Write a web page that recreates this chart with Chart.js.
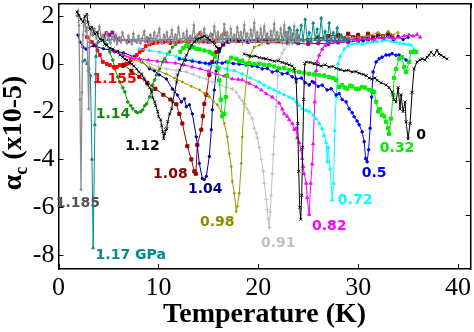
<!DOCTYPE html>
<html><head><meta charset="utf-8">
<script src="https://cdn.jsdelivr.net/npm/chart.js@4/dist/chart.umd.min.js"></script>
<style>html,body{margin:0;padding:0;background:#fff}canvas{display:block}</style>
</head><body>
<canvas id="c" width="474" height="332"></canvas>
<script>
// ---- data: [temperature (K), alpha_c (x10-5)] per pressure (GPa) ----
const s0 = [[25.6,0.0],[26.0,-0.05],[26.3,-0.1],[26.7,-0.05],[27.1,-0.14],[27.5,-0.12],[27.8,-0.2],[28.2,-0.25],[28.6,-0.3],[29.0,-0.28],[29.4,-0.35],[29.8,-0.33],[30.1,-0.4],[30.5,-0.45],[30.8,-0.5],[31.1,-0.6],[31.4,-0.64],[31.7,-0.6],[31.9,-0.7],[32.3,-0.8],[32.8,-0.89],[33.1,-1.0],[33.4,-1.18],[33.6,-1.5],[33.8,-1.6],[34.0,-1.0],[34.2,-1.9],[34.3,-1.3],[34.5,-2.0],[34.7,-1.6],[34.8,-2.43],[35.0,-3.14],[35.2,-2.5],[35.4,-1.2],[35.6,-0.22],[35.9,0.07],[36.2,0.15],[36.4,0.2],[36.7,0.15],[36.9,0.27],[37.1,0.35],[37.3,0.48],[37.6,0.35],[37.9,0.56],[38.1,0.4],[38.3,0.35],[38.6,0.27],[38.9,0.2]];
const sX = [[18.6,0.4],[19.0,0.35],[19.3,0.3],[19.7,0.32],[20.1,0.25],[20.5,0.22],[20.8,0.2],[21.2,0.15],[21.6,0.1],[22.0,0.12],[22.4,0.05],[22.8,0.0],[23.1,-0.05],[23.4,-0.1],[23.6,-0.2],[23.8,-0.77],[23.95,-2.5],[24.05,-4.5],[24.15,-6.0],[24.25,-6.5],[24.35,-5.5],[24.45,-3.5],[24.55,-1.5],[24.65,0.0],[24.8,0.07],[25.2,0.05],[25.6,0.0]];
const s032 = [[12.2,0.5],[12.5,0.65],[12.8,0.75],[13.1,0.7],[13.5,0.68],[13.8,0.62],[14.1,0.6],[14.6,0.55],[15.1,0.5],[15.4,0.42],[15.7,0.3],[15.95,-0.2],[16.1,-0.7],[16.25,-1.5],[16.4,-2.2],[16.6,-2.1],[16.75,-1.4],[16.85,-0.5],[17.0,0.07],[17.3,0.25],[17.8,0.2],[18.1,0.1],[18.4,0.12],[18.8,0.0],[19.1,0.02],[19.6,-0.02],[20.1,0.0],[20.6,-0.05],[21.1,-0.06],[21.6,-0.12],[22.1,-0.2],[22.6,-0.18],[23.1,-0.27],[23.6,-0.3],[24.1,-0.35],[24.6,-0.38],[25.1,-0.43],[25.6,-0.45],[26.1,-0.48],[26.6,-0.5],[27.1,-0.56],[27.5,-0.6],[27.8,-0.68],[28.1,-0.97],[28.4,-0.9],[28.7,-1.0],[28.9,-1.05],[29.2,-0.92],[29.4,-0.95],[29.8,-1.05],[30.1,-1.05],[30.4,-0.98],[30.7,-1.0],[31.1,-1.1],[31.4,-1.15],[31.6,-1.18],[31.8,-1.6],[32.0,-2.0],[32.2,-1.9],[32.4,-2.14],[32.6,-2.2],[32.8,-2.43],[33.0,-2.7],[33.1,-2.93],[33.3,-2.3],[33.5,-1.3],[33.6,-0.6],[33.8,-0.22],[34.1,0.2],[34.4,0.27],[34.6,-0.15],[34.8,-0.35],[35.1,0.07],[35.3,0.48],[35.6,0.5],[35.8,0.48]];
const s05 = [[12.1,0.2],[12.7,0.15],[13.4,0.1],[14.1,0.05],[14.7,0.02],[15.1,0.0],[15.8,0.05],[16.4,0.02],[16.8,0.07],[17.5,0.0],[18.1,-0.02],[18.8,-0.06],[19.4,-0.1],[19.9,-0.12],[20.4,-0.22],[20.9,-0.2],[21.4,-0.35],[21.9,-0.3],[22.4,-0.43],[22.9,-0.4],[23.4,-0.55],[23.8,-0.64],[24.3,-0.6],[24.7,-0.8],[25.1,-0.89],[25.4,-0.75],[25.6,-0.8],[26.0,-0.95],[26.4,-0.9],[26.9,-1.1],[27.3,-1.05],[27.8,-1.31],[28.1,-1.25],[28.4,-1.5],[28.8,-1.6],[29.1,-1.89],[29.4,-2.05],[29.6,-2.22],[29.9,-2.4],[30.1,-2.55],[30.4,-2.85],[30.6,-3.26],[30.75,-3.97],[30.9,-4.1],[31.05,-3.6],[31.2,-2.7],[31.35,-1.4],[31.5,-0.35],[31.8,0.07],[32.1,0.2],[32.4,0.27],[32.8,0.36],[33.1,0.36],[33.4,0.42],[33.8,0.35],[34.1,0.36],[34.4,0.27],[34.8,0.15]];
const s072 = [[8.1,0.62],[9.1,0.55],[10.1,0.48],[11.0,0.38],[11.8,0.3],[12.6,0.22],[13.4,0.15],[14.2,0.05],[15.1,-0.06],[15.9,-0.12],[16.8,-0.22],[17.6,-0.3],[18.4,-0.43],[19.2,-0.6],[20.1,-0.77],[20.6,-0.9],[21.1,-1.0],[21.6,-1.1],[22.1,-1.2],[22.6,-1.3],[23.1,-1.4],[23.5,-1.47],[23.8,-1.6],[24.1,-1.75],[24.4,-1.89],[24.8,-1.95],[25.1,-2.0],[25.5,-2.15],[25.8,-2.3],[26.1,-2.5],[26.4,-2.72],[26.6,-3.0],[26.8,-3.3],[26.9,-4.1],[27.0,-3.5],[27.2,-4.4],[27.4,-5.7],[27.55,-5.0],[27.65,-2.8],[27.8,-1.4],[28.0,0.0],[28.2,0.3],[28.6,0.6],[29.0,0.75],[29.4,0.82],[29.9,0.85],[30.4,0.82],[30.9,0.88],[31.4,0.9],[31.9,0.92],[32.4,0.95],[32.8,0.98],[33.3,0.93],[33.8,0.9],[34.2,0.85],[34.6,0.82],[35.0,0.8],[35.3,0.77],[35.6,0.6]];
const s082 = [[5.6,0.5],[6.5,0.35],[7.3,0.25],[8.1,0.19],[9.0,0.15],[9.9,0.1],[10.8,0.07],[11.7,0.02],[12.6,-0.05],[13.4,-0.14],[14.2,-0.22],[15.0,-0.32],[15.8,-0.43],[16.6,-0.52],[17.4,-0.64],[18.0,-0.66],[18.4,-0.68],[19.1,-0.82],[19.8,-0.97],[20.3,-1.1],[20.8,-1.26],[21.4,-1.4],[22.1,-1.65],[22.4,-1.9],[22.6,-2.1],[22.9,-2.2],[23.1,-2.35],[23.4,-2.5],[23.6,-2.75],[23.8,-2.7],[23.9,-3.1],[24.1,-3.3],[24.3,-3.6],[24.4,-3.97],[24.5,-4.3],[24.6,-4.6],[24.8,-5.0],[24.9,-5.6],[25.1,-6.3],[25.25,-5.0],[25.4,-4.2],[25.5,-3.35],[25.65,-1.6],[25.8,-0.3],[25.9,0.07],[26.1,0.35],[26.4,0.6],[26.7,0.75],[27.1,0.9],[27.6,0.92],[28.1,0.95],[28.6,0.98],[29.1,1.0],[29.6,1.02],[30.1,1.0],[30.6,1.05],[31.1,1.05],[31.6,1.0],[32.1,1.08],[32.6,1.05],[33.1,1.1],[33.6,1.05],[34.1,1.1],[34.6,1.15],[35.1,1.2],[35.5,1.15],[35.9,1.22],[36.2,1.1]];
const s091 = [[7.4,0.27],[8.3,0.15],[9.1,0.0],[10.0,-0.12],[10.8,-0.22],[11.8,-0.28],[12.8,-0.35],[13.5,-0.45],[14.1,-0.56],[14.8,-0.65],[15.4,-0.77],[16.2,-0.9],[16.8,-0.98],[17.4,-1.06],[17.8,-1.2],[18.1,-1.4],[18.4,-1.55],[18.6,-1.7],[18.9,-1.9],[19.1,-2.05],[19.4,-2.3],[19.6,-2.7],[19.8,-2.9],[19.9,-3.1],[20.1,-3.5],[20.3,-4.0],[20.5,-4.5],[20.6,-5.0],[20.8,-5.67],[20.9,-6.1],[21.0,-6.5],[21.1,-6.85],[21.2,-6.2],[21.3,-5.5],[21.4,-4.6],[21.5,-3.8],[21.6,-3.06],[21.8,-1.8],[21.95,-0.5],[22.1,0.2],[22.4,0.45],[22.6,0.6],[23.1,0.82],[23.6,0.9],[24.5,0.95],[25.5,1.0],[26.5,1.0],[27.5,1.05],[28.5,1.0],[29.5,1.05]];
const s098 = [[6.5,0.35],[7.4,0.19],[8.3,0.05],[9.1,-0.14],[10.0,-0.3],[10.8,-0.43],[11.6,-0.6],[12.4,-0.77],[13.3,-0.95],[14.1,-1.1],[14.6,-1.25],[15.1,-1.39],[15.5,-1.55],[15.9,-1.72],[16.3,-2.0],[16.6,-2.5],[16.9,-3.06],[17.1,-3.76],[17.3,-4.3],[17.4,-4.92],[17.6,-5.42],[17.8,-6.17],[17.9,-5.96],[18.1,-5.42],[18.3,-4.17],[18.4,-3.06],[18.6,-1.68],[18.8,-0.77],[19.1,0.27],[19.6,0.69],[20.1,0.77],[20.6,0.9],[22,0.95],[24,1.0],[26,1.0],[28,1.05],[30,1.1],[31,1.15],[32,1.3],[32.5,1.15],[33,1.35],[33.5,1.2],[34,1.3]];
const s104 = [[1.95,1.19],[2.15,0.9],[2.45,0.69],[2.75,0.61],[3.5,0.75],[4.5,0.62],[5.5,0.55],[6.5,0.45],[7.5,0.3],[8.3,0.12],[9.1,-0.22],[9.6,-0.3],[10.1,-0.47],[10.8,-0.64],[11.4,-1.06],[11.9,-1.31],[12.3,-1.6],[12.6,-1.47],[12.8,-1.8],[13.1,-1.72],[13.4,-2.1],[13.8,-3.06],[14.1,-4.17],[14.4,-4.8],[14.6,-4.84],[14.8,-4.71],[15.1,-3.88],[15.3,-2.76],[15.4,-1.93],[15.6,-1.1],[15.8,-0.3],[16.1,0.5],[16.5,0.8],[17.1,1.0],[19,0.95],[21,1.0],[23,0.95],[25,1.0],[27,0.95],[29,1.0],[30,1.05],[30.5,0.95],[31,1.1],[31.5,0.95],[32,1.15],[32.5,1.0],[33,1.2],[33.5,0.95],[34,1.15],[34.5,1.0],[35,1.1]];
const s108 = [[6.5,-0.05],[7.3,-0.3],[8.1,-0.55],[8.9,-0.8],[9.7,-1.05],[10.5,-1.3],[11.2,-1.5],[11.8,-1.7],[12.1,-2.1],[12.4,-2.5],[12.9,-3.45],[13.3,-4.0],[13.6,-4.5],[13.75,-4.6],[13.9,-3.4],[14.3,-2.76],[14.45,-2.2],[14.6,-1.68],[14.8,-1.3],[15.1,-0.47],[15.4,0.07],[15.8,0.48],[16.1,0.61],[16.5,0.8],[17,0.95],[18,0.95],[20,1.0],[22,0.95],[24,1.0],[26,1.05],[27,1.15],[28,1.2],[28.5,1.05],[29,1.25],[29.5,1.1],[30,1.2],[30.5,1.05],[31,1.25],[31.5,1.1],[32,1.2],[32.5,1.15],[33,1.25],[33.4,1.15]];
const s112 = [[1.85,2.15],[2.05,2.02],[2.25,1.85],[2.45,1.73],[2.64,1.98],[2.84,2.06],[2.94,1.73],[3.14,1.44],[3.34,1.52],[3.64,1.23],[3.84,1.31],[4.14,1.02],[4.44,0.98],[4.64,0.81],[4.84,0.77],[5.14,0.65],[5.44,0.61],[5.74,0.48],[5.94,0.52],[6.14,0.36],[6.44,0.27],[6.64,0.19],[6.84,0.15],[7.14,0.02],[7.34,-0.02],[7.54,-0.1],[7.83,-0.22],[8.03,-0.35],[8.33,-0.43],[8.53,-0.6],[8.63,-0.68],[8.83,-0.81],[8.93,-0.89],[9.13,-1.01],[9.33,-1.18],[9.43,-1.43],[9.63,-1.6],[9.73,-1.76],[9.93,-2.01],[10.03,-2.22],[10.23,-2.35],[10.33,-2.6],[10.43,-2.85],[10.53,-3.14],[10.63,-2.93],[10.73,-2.76],[10.83,-2.72],[10.93,-2.43],[11.13,-2.1],[11.33,-1.89],[11.43,-1.6],[11.63,-1.18],[11.83,-0.77],[11.93,-0.47],[12.13,-0.27],[12.33,-0.06],[12.63,0.15],[12.82,0.36],[13.12,0.61],[13.32,0.77],[13.62,0.9],[13.82,1.02],[14.12,1.06],[14.42,1.11],[14.62,1.15],[14.92,1.06],[15.12,0.98],[15.42,0.9],[15.62,0.81],[15.82,0.69],[16.02,0.61]];
const s114 = [[4.8,0.8],[5.14,0.48],[5.44,0.15],[5.64,-0.22],[5.94,-0.56],[6.14,-0.77],[6.44,-1.01],[6.64,-1.18],[6.94,-1.6],[7.24,-1.76],[7.44,-1.89],[7.74,-2.01],[7.93,-2.05],[8.23,-2.01],[8.43,-1.93],[8.63,-1.76],[8.83,-1.68],[9.13,-1.39],[9.33,-1.1],[9.43,-0.89],[9.63,-0.68],[9.83,-0.47],[10.13,-0.22],[10.43,0.07],[10.63,0.19],[10.93,0.4],[11.13,0.48],[11.43,0.69],[11.73,0.81],[12.13,0.9],[13,1.0],[14,0.95],[16,1.0],[18,1.0],[20,0.95],[22,1.0],[24,0.95],[26,1.0],[28,1.05],[29.5,1.0],[30.5,1.1],[31.5,1.05]];
const s1155 = [[2.84,1.11],[3.34,0.9],[3.64,0.77],[3.9,0.55],[4.14,0.36],[4.44,0.07],[4.84,-0.02],[5.14,-0.06],[5.54,-0.14],[5.84,-0.14],[6.14,-0.06],[6.44,-0.1],[6.74,-0.02],[6.94,0.0],[7.24,0.15],[7.54,0.22],[7.83,0.36],[8.13,0.48],[8.43,0.57],[8.73,0.73],[9.13,0.81],[9.5,0.86],[9.9,0.88],[10.5,0.9],[11.2,0.86],[12,0.92],[13,0.9],[14.2,1.27],[14.5,0.92],[15.3,1.19],[15.6,0.95],[16.6,1.25],[16.9,0.95],[18,1.0],[19,0.95],[20,1.0],[21,0.95],[22,1.0],[23,0.95],[24,1.05],[25,0.95],[26,1.1],[27,1.0],[28,1.15],[29,1.05],[30,1.1]];
const s117 = [[2.45,0.1],[2.65,0.15],[2.85,0.0],[3.05,-0.2],[3.2,-0.5],[3.35,-4.0],[3.47,-7.7],[3.64,-2.55],[3.75,0.3],[3.95,0.9],[5,1.0],[7,1.0],[9,1.05],[11,1.0],[13,1.05],[15,1.0],[17,1.05],[19,1.0],[21,1.05],[22.5,1.0],[22.7,1.3],[22.9,0.95],[23.1,1.5],[23.3,1.0],[23.5,1.25],[23.7,0.9],[23.9,1.4],[24.1,1.0],[24.3,1.6],[24.5,0.95],[24.7,1.85],[24.9,1.0],[25.1,1.3],[25.3,0.9],[25.5,1.7],[25.7,1.0],[25.9,1.45],[26.1,0.95],[26.3,1.9],[26.5,1.05],[26.7,1.35],[26.9,0.9],[27.1,1.7],[27.3,1.0],[27.5,1.3],[27.7,0.95],[27.9,1.5],[28.1,1.0],[28.3,1.2],[28.5,0.95],[28.7,1.1],[28.9,1.0]];
const s1185 = [[1.85,2.0],[1.95,2.2],[2.05,1.6],[2.15,-1.5],[2.25,-5.26],[2.35,-1.2],[2.45,1.2],[2.55,1.6],[2.65,1.8],[2.75,1.35],[2.85,1.5],[2.95,-0.3],[3.02,-1.9],[3.1,0.9],[3.25,1.5],[3.4,1.2],[3.6,1.45],[3.8,1.05],[3.95,1.25],[4.1,1.55],[4.3,1.0],[4.45,1.2],[4.6,0.9],[4.85,1.3],[5.0,1.05],[5.2,0.85],[5.35,1.15],[5.6,0.95],[5.75,1.2],[5.85,0.82],[6.1,1.1],[6.25,0.9],[6.4,1.3],[6.6,1.0],[6.85,0.85],[7.0,1.15],[7.1,1.0],[7.35,0.82],[7.5,1.25],[7.6,0.95],[7.85,0.88],[8.0,1.15],[8.2,0.85],[8.35,1.05],[8.6,1.35],[8.7,0.9],[8.85,1.1],[9.1,0.85],[9.2,1.2],[9.4,0.95],[9.6,1.3],[9.75,0.88],[9.9,1.15],[10.1,1.45],[10.2,0.95],[10.35,0.85],[10.55,1.2],[10.7,1.0],[10.85,1.3],[11.0,0.88],[11.2,1.1],[11.35,1.4],[11.5,0.9],[11.7,1.2],[11.85,0.95],[12.0,1.5],[12.2,1.0],[12.35,0.88],[12.5,1.25],[12.7,0.95],[12.85,1.35],[13.0,0.9],[13.2,1.15],[13.35,1.0],[13.55,1.6],[13.7,0.95],[13.9,1.2],[14.1,0.88],[14.25,1.3],[14.4,1.0],[14.6,1.45],[14.75,0.95],[14.9,1.15],[15.1,0.88],[15.25,1.25],[15.45,1.0],[15.6,1.55],[15.8,0.95],[15.95,1.3],[16.1,1.0],[16.3,1.2],[16.45,0.9],[16.6,1.65],[16.75,1.0],[16.9,1.3],[17.1,0.92],[17.25,1.45],[17.4,1.0],[17.6,1.2],[17.75,0.92],[17.9,1.5],[18.1,1.05],[18.25,1.3],[18.4,0.9],[18.6,1.6],[18.75,1.0],[18.9,1.25],[19.1,0.92],[19.25,1.4],[19.4,1.0],[19.6,1.7],[19.75,0.95],[19.9,1.3],[20.1,1.0],[20.25,1.45],[20.4,0.92],[20.6,1.55],[20.75,1.05],[20.9,1.25],[21.1,0.9],[21.25,1.35],[21.4,1.0],[21.6,1.65],[21.75,0.95],[21.9,1.3],[22.1,1.0],[22.25,1.45],[22.4,0.9],[22.6,1.6],[22.75,1.0],[22.9,1.3],[23.1,0.95],[23.25,1.4],[23.4,0.9],[23.6,1.55],[23.75,1.0],[23.9,1.2],[24.1,1.0]];
const sPurple = [[4.5,1.15],[4.8,1.28],[5.1,1.2],[5.4,1.3],[5.7,1.1],[6.0,1.0],[7,0.95],[9,0.95],[11,0.95],[13,0.9],[15,0.9],[17,0.9],[19,0.9],[21,0.88],[23,0.85],[24,0.85],[25,0.82],[26,0.85],[27,0.82],[28,0.88],[29,0.9],[30,0.95],[31,1.0]];

// curve labels (text, T, alpha, colour)
const labelText = ['1.155','1.14','1.12','1.08','1.04','0.98','0.91','0.82','0.72','0.5','0.32','0','1.185','1.17 GPa'];
const labelT = [5.62,5.45,8.4,11.2,14.7,15.9,22.0,27.1,29.7,31.6,33.9,36.3,1.94,7.23];
const labelA = [-0.64,-2.1,-3.47,-4.63,-5.26,-6.63,-7.5,-6.8,-5.71,-4.59,-3.55,-3.0,-5.84,-8.0];
const labelColor = ['#ff0000','#118811','#000000','#8b0000','#00008b','#8b8b00','#c0c0c0','#ff00ff','#00ffff','#0000ff','#00ee00','#000000','#555555','#008b8b'];

const xTicks = [0,10,20,30,40];
const yTicks = [2,0,-2,-4,-6,-8];

const pts = a => a.map(p => ({x:p[0], y:p[1]}));
function ds(arr, color, style, r, w){
  return {data: pts(arr), borderColor: color, backgroundColor: color, borderWidth: w||1,
    pointStyle: style, pointRadius: r, pointBorderWidth: 1, pointHoverRadius: 0, tension: 0, fill:false};
}
// first dataset is drawn on top
const datasets = [
  ds(s112,'#000000','crossRot',2,1),
  ds(s1185,'#8c8c8c','circle',1,1.3),
  ds(sX,'#000000','crossRot',2,1),
  ds(s0,'#000000','crossRot',2,1),
  ds(s032,'#00ee00','rect',2.3,1),
  ds(s05,'#0000ff','circle',1.3,1),
  ds(s072,'#00ffff','triangle',1.8,1),
  ds(s117,'#008b8b','triangle',1.6,1),
  ds(s082,'#ff00ff','triangle',1.8,1),
  ds(s091,'#c0c0c0','cross',2,1),
  ds(s098,'#999900','circle',1,1),
  ds(s104,'#000099','circle',1.2,1),
  ds(s108,'#990000','rect',2.2,1),
  ds(s1155,'#ff0000','rect',2,1.2),
  ds(s114,'#119911','circle',1.3,1),
  ds(sPurple,'#990099','rect',2,1)
];

const deco = {
  id:'deco',
  afterDraw(chart){
    const ctx = chart.ctx, a = chart.chartArea, S = chart.scales;
    ctx.save();
    ctx.strokeStyle = '#000'; ctx.lineWidth = 1;
    const L = 5;
    const seg = (x1,y1,x2,y2)=>{ctx.beginPath();ctx.moveTo(x1,y1);ctx.lineTo(x2,y2);ctx.stroke();};
    S.x.ticks.forEach(t=>{const p=Math.round(S.x.getPixelForValue(t.value))+0.5; seg(p,a.bottom,p,a.bottom-L);});
    S.y.ticks.forEach(t=>{const p=Math.round(S.y.getPixelForValue(t.value))+0.5; seg(a.left,p,a.left+L,p);});
    S.x2.ticks.forEach(t=>{const p=Math.round(S.x2.getPixelForValue(t.value))+0.5; seg(p,a.top,p,a.top+L);});
    S.y2.ticks.forEach(t=>{const p=Math.round(S.y2.getPixelForValue(t.value))+0.5; seg(a.right,p,a.right-L,p);});
    // curve labels
    ctx.font = 'bold 14px "DejaVu Sans"';
    ctx.textAlign = 'center'; ctx.textBaseline = 'middle';
    labelText.forEach((t,i)=>{
      ctx.fillStyle = labelColor[i];
      ctx.fillText(t, S.x.getPixelForValue(labelT[i]), S.y.getPixelForValue(labelA[i]));
    });
    // y-axis title with subscript
    ctx.fillStyle = '#000';
    ctx.translate(21, 133);
    ctx.rotate(-Math.PI/2);
    ctx.textAlign = 'left'; ctx.textBaseline = 'alphabetic';
    const big = 'bold 28px "Liberation Serif"', small = 'bold 18px "Liberation Serif"';
    const rest = ' (x10-5)';
    ctx.font = big; const wA = ctx.measureText('\u03b1').width, wR = ctx.measureText(rest).width;
    ctx.font = small; const wC = ctx.measureText('c').width;
    let x0 = -(wA+wC+wR)/2;
    ctx.font = big; ctx.fillText('\u03b1', x0, 0);
    ctx.font = small; ctx.fillText('c', x0+wA, 6);
    ctx.font = big; ctx.fillText(rest, x0+wA+wC, 0);
    ctx.restore();
  }
};

const noPad = s => { s.paddingTop = 0; s.paddingBottom = 0; s.paddingLeft = 0; s.paddingRight = 0; };

new Chart(document.getElementById('c'), {
  type: 'line',
  data: {datasets},
  options: {
    responsive: false, animation: false, devicePixelRatio: 1,
    layout: {padding: {left: 0, top: 1, right: 2, bottom: 0}},
    plugins: {legend: {display: false}, tooltip: {enabled: false}},
    scales: {
      x: {type:'linear', position:'bottom', min:0, max:41.27,
        afterBuildTicks: s => { s.ticks = xTicks.map(v=>({value:v})); },
        ticks: {font:{family:'Liberation Serif', size:26}, color:'#000', padding:4, maxRotation:0, autoSkip:false},
        grid: {display:false, drawTicks:false},
        border: {display:true, color:'#000', width:1.5},
        title: {display:true, text:'Temperature (K)', color:'#000', font:{family:'Liberation Serif', size:28, weight:'bold'}, padding:{top:5,bottom:0}},
        afterFit: s => { s.height = 63; noPad(s); }
      },
      y: {type:'linear', position:'left', min:-8.58, max:2.52,
        afterBuildTicks: s => { s.ticks = yTicks.map(v=>({value:v})); },
        ticks: {font:{family:'Liberation Serif', size:26}, color:'#000', padding:4, autoSkip:false},
        grid: {display:false, drawTicks:false},
        border: {display:true, color:'#000', width:1.5},
        afterFit: s => { s.width = 58.5; noPad(s); }
      },
      x2: {type:'linear', position:'top', min:-0.577, max:7.0,
        ticks: {display:false, stepSize:1, includeBounds:false},
        grid: {display:false, drawTicks:false},
        border: {display:true, color:'#000', width:1.5},
        afterFit: s => { s.height = 0; noPad(s); }
      },
      y2: {type:'linear', position:'right', min:-0.02, max:4.97,
        ticks: {display:false, stepSize:1, includeBounds:false},
        grid: {display:false, drawTicks:false},
        border: {display:true, color:'#000', width:1.5},
        afterFit: s => { s.width = 0; noPad(s); }
      }
    }
  },
  plugins: [deco]
});
</script>
</body></html>
